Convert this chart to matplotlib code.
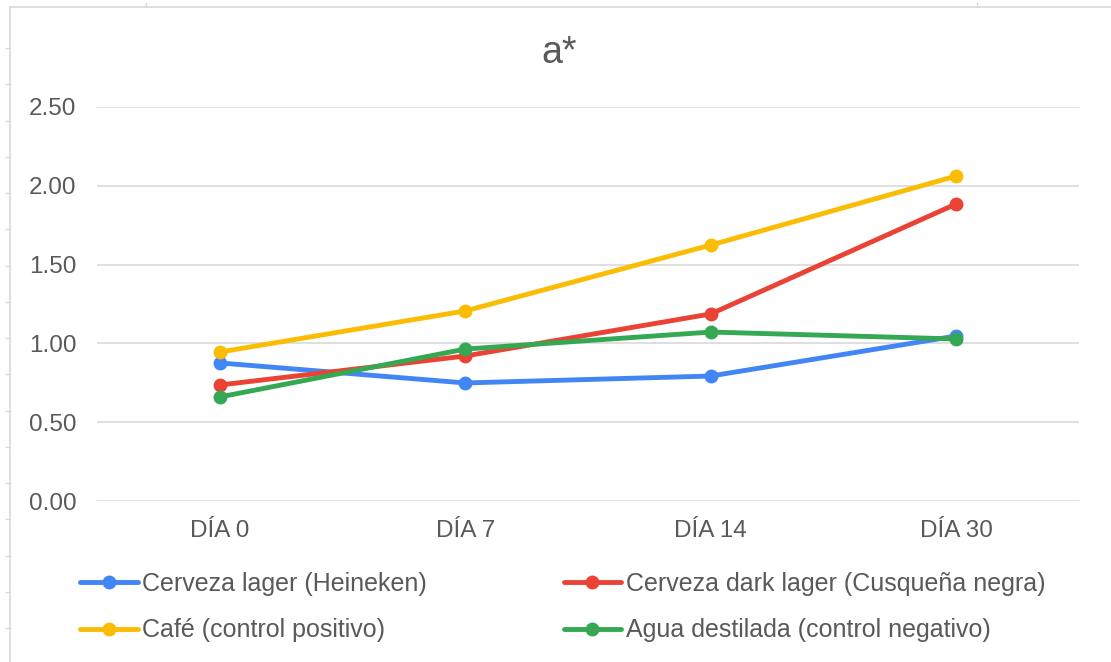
import matplotlib
matplotlib.use("Agg")
import matplotlib.pyplot as plt
from matplotlib.lines import Line2D

plt.rcParams['font.family'] = ['Liberation Sans', 'DejaVu Sans']

categories = ["DÍA 0", "DÍA 7", "DÍA 14", "DÍA 30"]
series_names = ["Cerveza lager (Heineken)", "Cerveza dark lager (Cusqueña negra)",
                "Café (control positivo)", "Agua destilada (control negativo)"]
lager = [0.876, 0.749, 0.793, 1.047]
dark_lager = [0.736, 0.920, 1.187, 1.885]
cafe = [0.945, 1.206, 1.624, 2.062]
agua = [0.660, 0.964, 1.072, 1.028]
colors = ["#4285F4", "#EA4335", "#FBBC04", "#34A853"]
yticks = [0.0, 0.5, 1.0, 1.5, 2.0, 2.5]

W, H = 1111, 662
fig = plt.figure(figsize=(W/100, H/100), dpi=100)
ax = fig.add_axes([97/W, 1-501/H, (1079-97)/W, (501-107)/H])

x = list(range(len(categories)))
handles = []
for vals, name, c in zip([lager, dark_lager, cafe, agua], series_names, colors):
    h, = ax.plot(x, vals, color=c, lw=3.5, marker='o', ms=9, label=name,
                 solid_capstyle='round')
    handles.append(h)

ax.set_xlim(-0.5, 3.5)
ax.set_ylim(0, 2.5)
ax.set_yticks(yticks)
ax.set_yticklabels([f"{v:.2f}" for v in yticks])
ax.set_xticks(x)
ax.set_xticklabels(categories)
ax.tick_params(axis='both', length=0, labelsize=17.5, labelcolor='#595959')
ax.tick_params(axis='y', pad=15)
ax.tick_params(axis='x', pad=14)
ax.yaxis.grid(True, color='#d9d9d9', lw=1.2)
ax.set_axisbelow(True)
for s in ax.spines.values():
    s.set_visible(False)

fig.text(559/W, 1-53/H, "a*", ha='center', va='center', fontsize=27, color='#595959')

order = [0, 2, 1, 3]
leg = fig.legend([handles[i] for i in order], [series_names[i] for i in order],
                 ncol=2, loc='center left', bbox_to_anchor=(80/W, 1-607/H),
                 frameon=False, fontsize=18.0, handlelength=2.3, handletextpad=0.2,
                 columnspacing=5.45, labelspacing=0.9, borderpad=0, borderaxespad=0)
for t in leg.get_texts():
    t.set_color('#595959')

# outer frame remnants
fig.add_artist(Line2D([10/W, 10/W], [0, 1-7/H], color='#d9d9d9', lw=1.2, transform=fig.transFigure))
fig.add_artist(Line2D([10/W, 1], [1-7/H, 1-7/H], color='#d9d9d9', lw=1.2, transform=fig.transFigure))
yy = 48
while yy < H:
    fig.add_artist(Line2D([6/W, 10/W], [1-yy/H, 1-yy/H], color='#d9d9d9', lw=1, transform=fig.transFigure))
    yy += 36.25
for xx in [146, 977]:
    fig.add_artist(Line2D([xx/W, xx/W], [1-7/H, 1-3/H], color='#d9d9d9', lw=1, transform=fig.transFigure))

fig.savefig("out.png", dpi=100)
